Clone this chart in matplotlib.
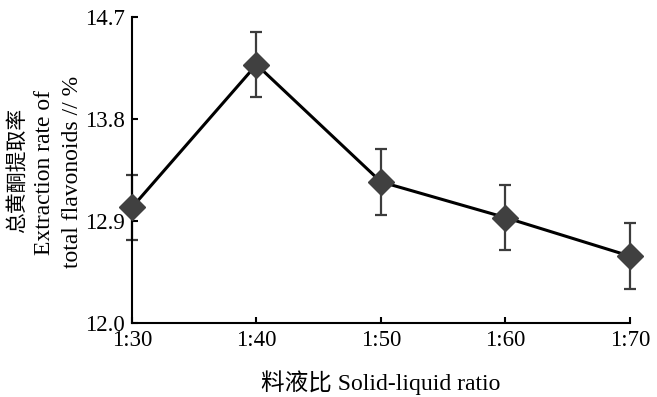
import matplotlib
matplotlib.use('Agg')
import matplotlib.pyplot as plt

# 料液比对总黄酮提取率的影响
ratios = ['1:30', '1:40', '1:50', '1:60', '1:70']
rate = [13.02, 14.28, 13.245, 12.93, 12.59]
err = [0.29, 0.29, 0.29, 0.29, 0.29]
y_ticks = [12.0, 12.9, 13.8, 14.7]

fonts = ['Liberation Serif', 'Noto Sans CJK SC']
plt.rcParams['font.family'] = fonts

fig = plt.figure(figsize=(6.57, 3.97), dpi=100)
ax = fig.add_axes([0.2009, 0.1864, 0.758, 0.7708])

x = list(range(len(ratios)))

ax.errorbar(x, rate, yerr=err, fmt='none', ecolor='#3c3c3c',
            elinewidth=1.6, capsize=4.3, capthick=1.6, zorder=2, clip_on=False)
ax.plot(x, rate, color='black', linewidth=2.2, zorder=3, clip_on=False)
ax.plot(x, rate, linestyle='none', marker='D', markersize=13,
        color='#404040', zorder=4, clip_on=False)

ax.set_xlim(0, 4)
ax.set_ylim(12.0, 14.7)
ax.set_xticks(x)
ax.set_xticklabels(ratios)
ax.set_yticks(y_ticks)
ax.set_yticklabels([f'{v:.1f}' for v in y_ticks])

for s in ['top', 'right']:
    ax.spines[s].set_visible(False)
for s in ['left', 'bottom']:
    ax.spines[s].set_linewidth(1.5)

ax.tick_params(axis='both', direction='in', length=4, width=1.5, labelsize=16.5)
ax.tick_params(axis='x', pad=5)
ax.tick_params(axis='y', pad=5)

ax.set_xlabel('料液比 Solid-liquid ratio', fontsize=17, labelpad=14)

# 纵轴标题三行
fig.text(18 / 657, 0.57, '总黄酮提取率', rotation=90, ha='center', va='center',
         fontsize=15, family=fonts)
fig.text(45 / 657, 0.565, 'Extraction rate of', rotation=90, ha='center',
         va='center', fontsize=17)
fig.text(72 / 657, 0.567, 'total flavonoids // %', rotation=90, ha='center',
         va='center', fontsize=17)

fig.savefig('out.png', dpi=100)
